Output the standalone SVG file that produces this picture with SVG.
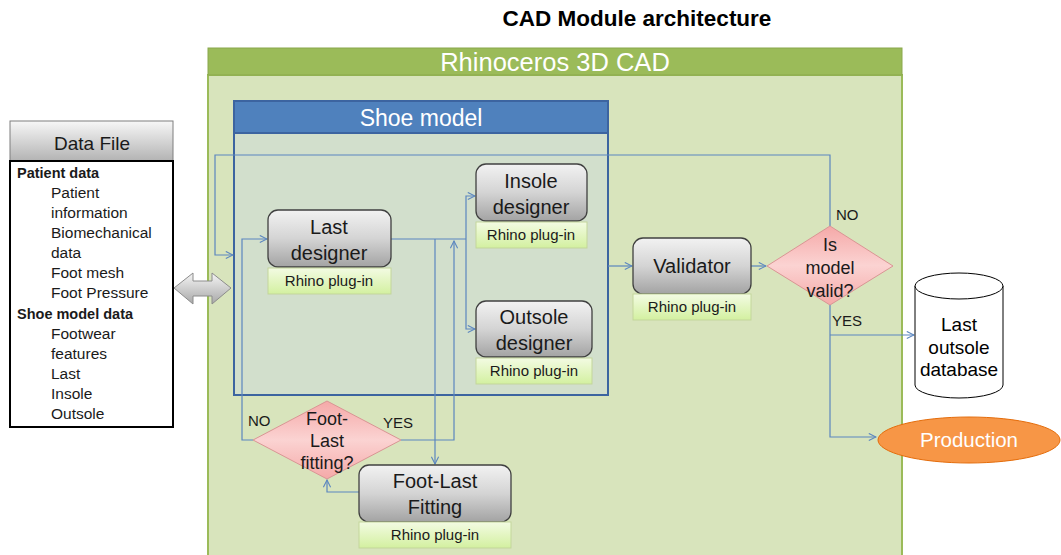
<svg xmlns="http://www.w3.org/2000/svg" width="1061" height="555" viewBox="0 0 1061 555">
<defs>
<linearGradient id="gGray" x1="0" y1="0" x2="0" y2="1">
<stop offset="0" stop-color="#f2f2f2"/><stop offset="0.5" stop-color="#d4d4d4"/><stop offset="1" stop-color="#a3a3a3"/>
</linearGradient>
<linearGradient id="gHead" x1="0" y1="0" x2="0" y2="1">
<stop offset="0" stop-color="#f7f7f7"/><stop offset="1" stop-color="#b3b3b3"/>
</linearGradient>
<linearGradient id="gPlug" x1="0" y1="0" x2="0" y2="1">
<stop offset="0" stop-color="#f3fbe3"/><stop offset="1" stop-color="#d3f0a0"/>
</linearGradient>
<linearGradient id="gDia" x1="0" y1="0" x2="0" y2="1">
<stop offset="0" stop-color="#f5a9a8"/><stop offset="0.5" stop-color="#fbd3d2"/><stop offset="1" stop-color="#f5a9a8"/>
</linearGradient>
<linearGradient id="gArrow" x1="0" y1="0" x2="0" y2="1">
<stop offset="0" stop-color="#f5f5f5"/><stop offset="1" stop-color="#a8a8a8"/>
</linearGradient>
<marker id="arr" viewBox="0 0 10 10" refX="9" refY="5" markerWidth="9" markerHeight="9" markerUnits="userSpaceOnUse" orient="auto">
<path d="M1,1 L9,5 L1,9" fill="none" stroke="#5b86bf" stroke-width="1.2"/>
</marker>
<style>
text{font-family:"Liberation Sans",Arial,sans-serif;}
.box{fill:url(#gGray);stroke:#404040;stroke-width:1.3;}
.plug{fill:url(#gPlug);stroke:#c3d69b;stroke-width:1;}
.dia{fill:url(#gDia);stroke:#d99594;stroke-width:1;}
.t20{font-size:20px;fill:#1a1a1a;text-anchor:middle;}
.t18{font-size:18px;fill:#1a1a1a;text-anchor:middle;}
.tp{font-size:15px;fill:#1a1a1a;text-anchor:middle;}
.lab{font-size:15px;fill:#1a1a1a;}
.df{font-size:15.5px;fill:#1a1a1a;}
.dfb{font-size:14.5px;font-weight:bold;fill:#1a1a1a;}
.con{fill:none;stroke:#5b86bf;stroke-width:1.2;}
.ca{fill:none;stroke:#5b86bf;stroke-width:1.2;marker-end:url(#arr);}
</style>
</defs>
<rect width="1061" height="555" fill="#ffffff"/>
<text x="637" y="26" font-size="22.5" font-weight="bold" text-anchor="middle" fill="#000">CAD Module architecture</text>

<g id="rhino">
<rect x="208" y="75" width="694" height="490" fill="#d8e4bc" stroke="#9bbb59" stroke-width="2"/>
<rect x="208" y="48" width="694" height="27" fill="#9bbb59" stroke="#8aa84c" stroke-width="1"/>
<text x="555" y="71" font-size="25.5" fill="#ffffff" text-anchor="middle">Rhinoceros 3D CAD</text>
</g>

<g id="shoe-model">
<rect x="234" y="101" width="374" height="294" fill="#d2dfcc" stroke="#3c64a0" stroke-width="2"/>
<rect x="234" y="101" width="374" height="32" fill="#4f81bd" stroke="#3c64a0" stroke-width="2"/>
<text x="421" y="126" font-size="23" fill="#ffffff" text-anchor="middle">Shoe model</text>
</g>

<g id="data-file">
<rect x="10" y="121" width="163" height="40" fill="url(#gHead)" stroke="#7f7f7f" stroke-width="1"/>
<text x="92" y="150" font-size="19" fill="#1a1a1a" text-anchor="middle">Data File</text>
<rect x="10" y="161" width="163" height="266" fill="#ffffff" stroke="#000" stroke-width="2"/>
<text class="dfb" x="17" y="178">Patient data</text>
<text class="df" x="51" y="198">Patient</text>
<text class="df" x="51" y="218">information</text>
<text class="df" x="51" y="238">Biomechanical</text>
<text class="df" x="51" y="258">data</text>
<text class="df" x="51" y="278">Foot mesh</text>
<text class="df" x="51" y="298">Foot Pressure</text>
<text class="dfb" x="17" y="319">Shoe model data</text>
<text class="df" x="51" y="339">Footwear</text>
<text class="df" x="51" y="359">features</text>
<text class="df" x="51" y="379">Last</text>
<text class="df" x="51" y="399">Insole</text>
<text class="df" x="51" y="419">Outsole</text>
</g>

<g id="double-arrow">
<path d="M174,288 L193,273 L193,281 L212,281 L212,273 L231,288 L212,304 L212,296 L193,296 L193,304 Z" fill="url(#gArrow)" stroke="#8c8c8c" stroke-width="1"/>
</g>

<g id="connectors">
<path class="ca" d="M830,226 L830,155 L215,155 L215,255 L233,255"/>
<path class="ca" d="M253,440 L242,440 L242,239 L267,239"/>
<path class="con" d="M391,239 L466,239"/>
<path class="ca" d="M466,239 L466,196 L475,196"/>
<path class="ca" d="M466,239 L466,329 L475,329"/>
<path class="ca" d="M435,239 L435,464"/>
<path class="ca" d="M401,440 L454,440 L454,241"/>
<path class="ca" d="M359,492 L327,492 L327,480"/>
<path class="ca" d="M608,266 L632,266"/>
<path class="ca" d="M751,266 L766,266"/>
<path class="ca" d="M830,305 L830,437 L876,437"/>
<path class="ca" d="M830,335 L914,335"/>
</g>

<g id="last-designer">
<rect class="box" x="268" y="210" width="123" height="57" rx="10"/>
<text class="t20" x="329" y="234">Last</text>
<text class="t20" x="329" y="260">designer</text>
<rect class="plug" x="268" y="268" width="123" height="26"/>
<text class="tp" x="329" y="286">Rhino plug-in</text>
</g>

<g id="insole-designer">
<rect class="box" x="476" y="164" width="111" height="57" rx="10"/>
<text class="t20" x="531" y="188">Insole</text>
<text class="t20" x="531" y="214">designer</text>
<rect class="plug" x="476" y="222" width="111" height="26"/>
<text class="tp" x="531" y="240">Rhino plug-in</text>
</g>

<g id="outsole-designer">
<rect class="box" x="476" y="301" width="116" height="56" rx="10"/>
<text class="t20" x="534" y="324">Outsole</text>
<text class="t20" x="534" y="350">designer</text>
<rect class="plug" x="476" y="358" width="116" height="26"/>
<text class="tp" x="534" y="376">Rhino plug-in</text>
</g>

<g id="validator">
<rect class="box" x="633" y="238" width="118" height="56" rx="10"/>
<text class="t20" x="692" y="273">Validator</text>
<rect class="plug" x="633" y="294" width="118" height="26"/>
<text class="tp" x="692" y="312">Rhino plug-in</text>
</g>

<g id="model-valid">
<path class="dia" d="M830,226 L893,266 L830,305 L767,266 Z"/>
<text class="t18" x="830" y="251">Is</text>
<text class="t18" x="830" y="274">model</text>
<text class="t18" x="830" y="297">valid?</text>
<text class="lab" x="836" y="220">NO</text>
<text class="lab" x="832" y="326">YES</text>
</g>

<g id="foot-last-check">
<path class="dia" d="M327,401 L401,440 L327,479 L253,440 Z"/>
<text class="t18" x="327" y="425">Foot-</text>
<text class="t18" x="327" y="447">Last</text>
<text class="t18" x="327" y="469">fitting?</text>
<text class="lab" x="248" y="426">NO</text>
<text class="lab" x="383" y="428">YES</text>
</g>

<g id="foot-last-fitting">
<rect class="box" x="359" y="465" width="152" height="57" rx="10"/>
<text class="t20" x="435" y="488">Foot-Last</text>
<text class="t20" x="435" y="514">Fitting</text>
<rect class="plug" x="359" y="522" width="152" height="26"/>
<text class="tp" x="435" y="540">Rhino plug-in</text>
</g>

<g id="database">
<path d="M915,286 L915,385 A44,13 0 0 0 1003,385 L1003,286" fill="#ffffff" stroke="#000" stroke-width="1"/>
<ellipse cx="959" cy="286" rx="44" ry="13" fill="#ffffff" stroke="#000" stroke-width="1"/>
<text x="959" y="331" font-size="19" fill="#000" text-anchor="middle">Last</text>
<text x="959" y="354" font-size="19" fill="#000" text-anchor="middle">outsole</text>
<text x="959" y="376" font-size="19" fill="#000" text-anchor="middle">database</text>
</g>

<g id="production">
<ellipse cx="969" cy="440" rx="91" ry="23" fill="#f79646" stroke="#e46c0a" stroke-width="1"/>
<text x="969" y="447" font-size="20.5" fill="#ffffff" text-anchor="middle">Production</text>
</g>
</svg>
